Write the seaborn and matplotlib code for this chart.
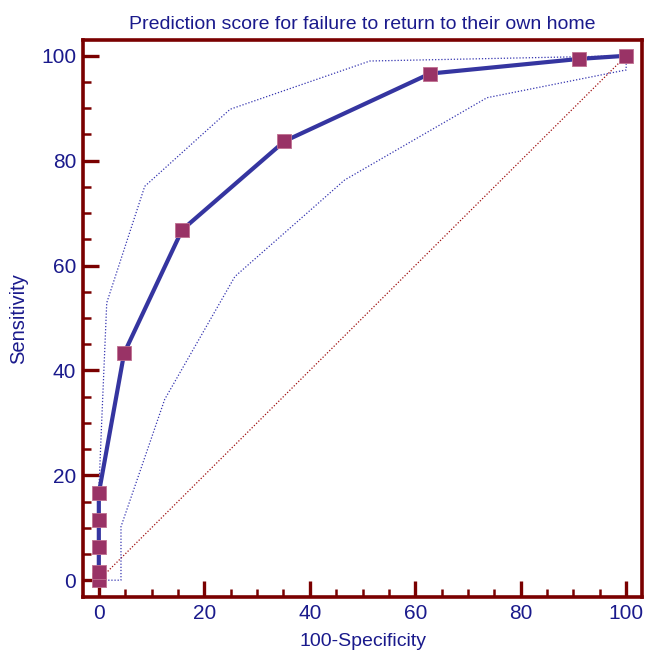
import matplotlib
matplotlib.use('Agg')
from matplotlib import pyplot as plt
import matplotlib.ticker as mtick
import seaborn as sns
import pandas as pd

# ROC curve points
fpr = [0, 0, 0, 0, 0, 4.8, 15.8, 35.2, 62.8, 91.1, 100]
tpr = [0, 1.5, 6.3, 11.5, 16.6, 43.3, 66.8, 83.7, 96.6, 99.4, 100]

# confidence bounds
upper_x = [0, 0, 0.5, 1.5, 8.7, 24.9, 51.4, 100]
upper_y = [0, 17, 29.2, 52.9, 75.1, 89.8, 99.0, 100]
lower_x = [0, 4.2, 4.2, 12.5, 25.8, 46.6, 73.6, 100, 100]
lower_y = [0, 0, 10.2, 34.5, 57.9, 76.3, 92.0, 97.3, 100]

diag = [0, 100]

NAVY = '#1a1a8c'
LINE = '#3535a0'
MARK = '#993366'
SPINE = '#7a0000'

sns.set_style('ticks')
plt.rcParams['font.family'] = ['Liberation Sans', 'DejaVu Sans']

fig = plt.figure(figsize=(6.46, 6.53), dpi=100)
ax = fig.add_axes([0.1285, 0.0858, 0.8653, 0.8529])

roc = pd.DataFrame({'x': fpr, 'y': tpr})
up = pd.DataFrame({'x': upper_x, 'y': upper_y})
lo = pd.DataFrame({'x': lower_x, 'y': lower_y})

ax.plot(diag, diag, color='#a01010', lw=0.9, ls=(0, (1, 1.5)), zorder=1)
ax.plot(up['x'], up['y'], color='#3535b0', lw=0.9, ls=(0, (1, 1.5)), zorder=1)
ax.plot(lo['x'], lo['y'], color='#3535b0', lw=0.9, ls=(0, (1, 1.5)), zorder=1)
sns.lineplot(data=roc, x='x', y='y', ax=ax, color=LINE, lw=3, sort=False,
             estimator=None, zorder=2)
sns.scatterplot(data=roc, x='x', y='y', ax=ax, marker='s', s=100, color=MARK,
                edgecolor='#c07090', linewidth=0.6, zorder=3)

ax.set_xlim(-3, 103)
ax.set_ylim(-3.2, 103)
ax.xaxis.set_major_locator(mtick.MultipleLocator(20))
ax.xaxis.set_minor_locator(mtick.MultipleLocator(5))
ax.yaxis.set_major_locator(mtick.MultipleLocator(20))
ax.yaxis.set_minor_locator(mtick.MultipleLocator(5))

for s in ax.spines.values():
    s.set_color(SPINE)
    s.set_linewidth(2.6)
ax.tick_params(which='major', direction='in', length=11.5, width=2.4,
               color=SPINE, labelcolor=NAVY, labelsize=15, pad=5)
ax.tick_params(which='minor', direction='in', length=5.5, width=1.8,
               color=SPINE)

ax.set_xlabel('100-Specificity', color=NAVY, fontsize=14, labelpad=7)
ax.set_ylabel('Sensitivity', color=NAVY, fontsize=14.5, labelpad=9)
ax.set_title('Prediction score for failure to return to their own home',
             color=NAVY, fontsize=14, pad=8)

fig.savefig('out.png', dpi=100)
